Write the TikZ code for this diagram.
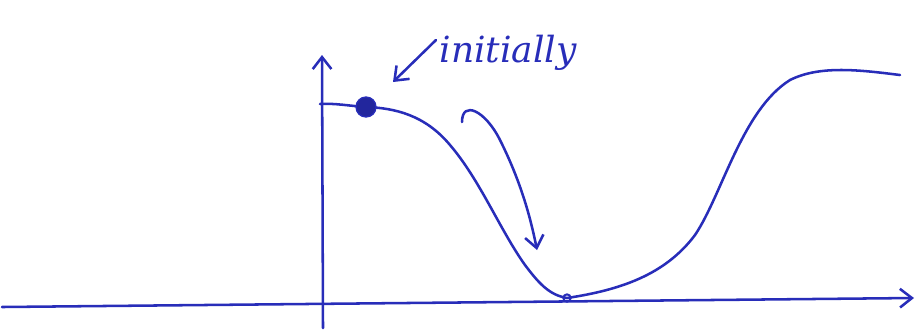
\documentclass[tikz,border=0pt]{standalone}
\usepackage{fontspec}
\setmainfont{DejaVu Serif}
\usetikzlibrary{arrows.meta}
\definecolor{pen}{RGB}{40,45,185}
\tikzset{ink/.style={draw=pen, line width=1.9pt, line cap=round, line join=round},
         tip/.style={-{Straight Barb[length=9pt,width=14pt,line width=1.9pt]}}}
\begin{document}
\begin{tikzpicture}[x=0.75pt,y=-0.75pt]
\useasboundingbox (0,0) rectangle (919,330);
% axes
\coordinate (xs) at (2,307);
\coordinate (xe) at (914,298);
\draw[ink,tip] (xs) -- (xe);
\coordinate (ys) at (323,328);
\coordinate (ye) at (322,55);
\draw[ink,tip] (ys) -- (ye);
% curve
\coordinate (c0) at (320,104);
\coordinate (ball) at (366,107);
\coordinate (bottom) at (567,298);
\draw[ink] (c0) .. controls (335,103) and (350,106) .. (ball)
  .. controls (395,108) and (425,115) .. (450,145)
  .. controls (480,180) and (500,230) .. (525,265)
  .. controls (540,285) and (550,295) .. (bottom)
  .. controls (620,290) and (665,275) .. (695,235)
  .. controls (722,195) and (742,110) .. (790,80)
  .. controls (820,65) and (860,70) .. (900,75);
% ball and small circle
\node[circle, fill=pen!85!black, draw=pen, line width=1pt, minimum size=15pt, inner sep=0pt] (b) at (ball) {};
\node[circle, draw=pen, line width=1.5pt, minimum size=5.5pt, inner sep=0pt] (s) at (bottom) {};
% curved arrow
\coordinate (a0) at (462,122);
\coordinate (a1) at (537,250);
\draw[ink,tip] (a0) .. controls (462,100) and (485,110) .. (500,140)
  .. controls (520,180) and (530,215) .. (a1);
% label
\node[text=pen, font=\itshape\fontsize{27}{29}\selectfont, anchor=center] (lbl) at (508,53) {initially};
\coordinate (l0) at (436,40);
\coordinate (l1) at (393,82);
\draw[ink,tip] (l0) -- (l1);
\end{tikzpicture}
\end{document}
